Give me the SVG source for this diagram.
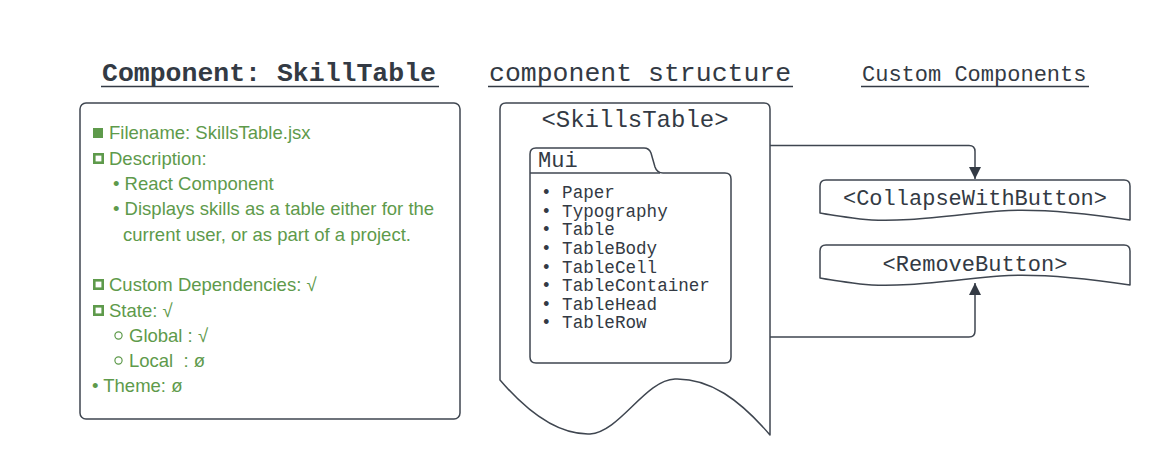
<svg xmlns="http://www.w3.org/2000/svg" width="1170" height="475" viewBox="0 0 1170 475">
<style>
.bg{fill:#ffffff}
.shape{fill:#ffffff;stroke:#3f4650;stroke-width:1.5;stroke-linejoin:round}
.conn{fill:none;stroke:#3f4650;stroke-width:1.5}
.mono{font-family:"Liberation Mono","DejaVu Sans Mono",monospace;fill:#333a44}
.hdr{font-size:26.5px}
.green{font-family:"Liberation Sans",Arial,sans-serif;font-size:18.5px;fill:#5e9a4b}
.ul{stroke:#333a44;stroke-width:1.6}
.list{font-size:17.6px}
.hsq{fill:none;stroke:#5e9a4b;stroke-width:2.6}
</style>
<defs>
<marker id="arr" viewBox="0 0 12 14" refX="12" refY="7" markerWidth="12" markerHeight="14" markerUnits="userSpaceOnUse" orient="auto">
<path d="M0,1 L12,7 L0,13 Z" fill="#333a44"/>
</marker>
</defs>
<rect class="bg" x="0" y="0" width="1170" height="475"/>

<g id="title-skilltable">
<text class="mono hdr" x="102" y="81" font-weight="bold">Component: SkillTable</text>
<line class="ul" x1="101" y1="86.5" x2="439" y2="86.5" stroke-width="2.2"/>
</g>
<g id="title-structure">
<text class="mono hdr" x="489" y="81">component structure</text>
<line class="ul" x1="488" y1="86.5" x2="793" y2="86.5"/>
</g>
<g id="title-custom">
<text class="mono" x="862" y="81" font-size="22px">Custom Components</text>
<line class="ul" x1="861" y1="86.5" x2="1089" y2="86.5"/>
</g>

<g id="info-box">
<rect class="shape" x="80" y="103" width="380" height="316" rx="6"/>
<rect x="93" y="128" width="10" height="10" fill="#5e9a4b"/>
<text class="green" x="109" y="139">Filename: SkillsTable.jsx</text>
<rect class="hsq" x="94.3" y="154.3" width="8.4" height="8.4"/>
<text class="green" x="109" y="165">Description:</text>
<text class="green" x="113" y="190">• React Component</text>
<text class="green" x="113" y="215">• Displays skills as a table either for the</text>
<text class="green" x="123" y="241">current user, or as part of a project.</text>
<rect class="hsq" x="94.3" y="280.3" width="8.4" height="8.4"/>
<text class="green" x="109" y="291">Custom Dependencies: √</text>
<rect class="hsq" x="94.3" y="306.3" width="8.4" height="8.4"/>
<text class="green" x="109" y="317">State: √</text>
<circle cx="118.5" cy="335.5" r="3.6" fill="none" stroke="#5e9a4b" stroke-width="1.2"/>
<text class="green" x="129" y="342">Global : √</text>
<circle cx="118.5" cy="360.5" r="3.6" fill="none" stroke="#5e9a4b" stroke-width="1.2"/>
<text class="green" x="129" y="367" xml:space="preserve">Local  : ø</text>
<text class="green" x="92" y="392">• Theme: ø</text>
</g>

<g id="skillstable-doc">
<path class="shape" d="M506,103 L764,103 Q770,103 770,109 L770,435 C740,400 710,378 675,379 C645,380 620,432 590,434 C560,435 530,415 500,380 L500,109 Q500,103 506,103 Z"/>
<text class="mono" x="635" y="127" font-size="24px" text-anchor="middle">&lt;SkillsTable&gt;</text>
</g>

<g id="mui-folder">
<path class="shape" d="M530,173 L530,154 Q530,148 536,148 L644,148 Q649,148 651,153 L655,167 Q657,173 663,173 L725,173 Q731,173 731,179 L731,357 Q731,363 725,363 L536,363 Q530,363 530,357 Z"/>
<line class="conn" x1="530" y1="173" x2="660" y2="173"/>
<text class="mono" x="538" y="167" font-size="22px">Mui</text>
<g class="mono list">
<text x="541" y="198">• Paper</text>
<text x="541" y="217">• Typography</text>
<text x="541" y="235">• Table</text>
<text x="541" y="254">• TableBody</text>
<text x="541" y="273">• TableCell</text>
<text x="541" y="291">• TableContainer</text>
<text x="541" y="310">• TableHead</text>
<text x="541" y="328">• TableRow</text>
</g>
</g>

<g id="collapse-with-button">
<path class="shape" d="M826,180 L1124,180 Q1130,180 1130,186 L1130,220 C1090,214 1040,208 1000,211 C960,214 900,224 860,219 C845,217 830,215 820,213 L820,186 Q820,180 826,180 Z"/>
<text class="mono" x="975" y="205" font-size="22px" text-anchor="middle">&lt;CollapseWithButton&gt;</text>
</g>

<g id="remove-button">
<path class="shape" d="M826,245 L1124,245 Q1130,245 1130,251 L1130,285 C1090,279 1040,273 1000,276 C960,279 900,289 860,284 C845,282 830,280 820,278 L820,251 Q820,245 826,245 Z"/>
<text class="mono" x="975" y="271" font-size="22px" text-anchor="middle">&lt;RemoveButton&gt;</text>
</g>

<g id="connectors">
<path class="conn" d="M770,145.5 L969,145.5 Q975,145.5 975,151.5 L975,179" marker-end="url(#arr)"/>
<path class="conn" d="M770,337 L969,337 Q975,337 975,331 L975,283" marker-end="url(#arr)"/>
</g>
</svg>
